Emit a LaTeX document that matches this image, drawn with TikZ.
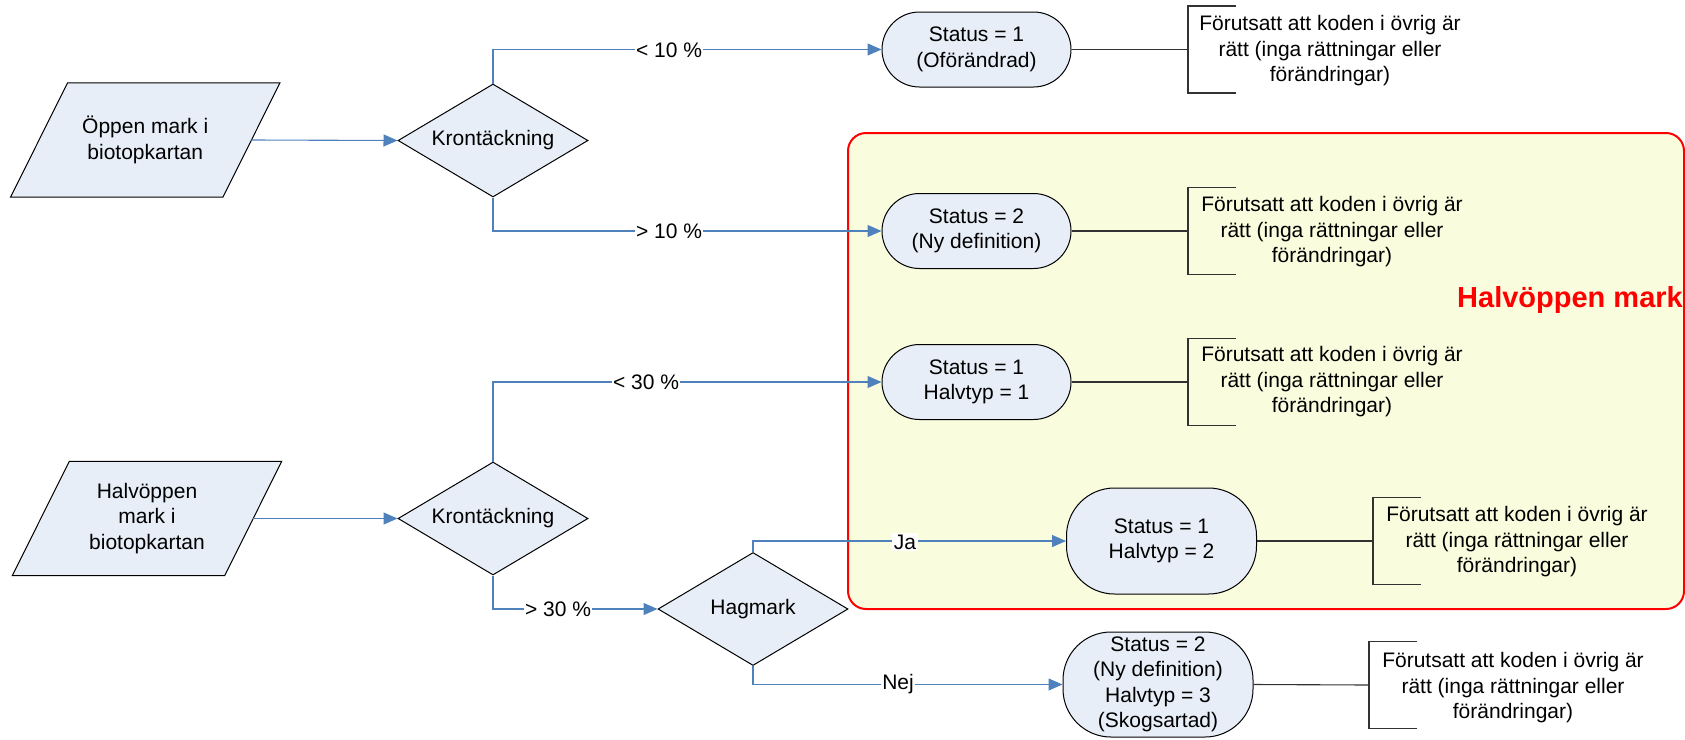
\documentclass[tikz,border=0pt]{standalone}
\usepackage{fontspec}
\setmainfont{Liberation Sans}
\usetikzlibrary{shapes.geometric,arrows.meta,backgrounds}
\definecolor{nodefill}{RGB}{232,238,247}
\definecolor{lineblue}{RGB}{79,129,189}
\definecolor{boxfill}{RGB}{250,252,222}
\definecolor{bracketgray}{RGB}{50,50,50}
\begin{document}
\begin{tikzpicture}[x=1pt,y=-1pt,
  every node/.style={font=\fontsize{21}{25.5}\selectfont},
  base/.style={draw=black, line width=1pt, fill=nodefill, inner sep=0pt, align=center},
  inbox/.style={rectangle, inner sep=0pt, align=center, minimum width=212pt, minimum height=114pt},
  inboxline/.style={draw=black, line width=1pt, fill=nodefill},
  decision/.style={base, diamond, aspect=1.68, minimum width=190pt, minimum height=113pt},
  status/.style={base, rectangle, rounded corners=37.5pt, minimum width=189pt, minimum height=75pt},
  tallstatus/.style={base, rectangle, rounded corners=48pt, minimum width=190pt, minimum height=106pt},
  conn/.style={draw=lineblue, line width=1.1pt, -{Triangle[length=14pt,width=12pt,fill=lineblue]}},
  lbl/.style={fill=white, inner sep=1.5pt},
  bracketline/.style={draw=bracketgray, line width=1.1pt},
  note/.style={align=center, inner sep=0pt},
  redbox/.style={draw=red, line width=2pt, fill=boxfill, rounded corners=18pt, inner sep=0pt},
  bracketpic/.pic={\draw[bracketline] (48,-43.5) -- (0,-43.5) -- (0,43.5) -- (48,43.5);}
]
\useasboundingbox (0,0) rectangle (1685,739);

% highlighted zone
\node[redbox, minimum width=836pt, minimum height=476pt] (zone) at (1266,371) {};
\node[anchor=base east, text=red, font=\bfseries\fontsize{29}{34}\selectfont, inner sep=0pt]
  (zlabel) at (1683,307.5) {Halvöppen mark};

% input nodes (parallelograms)
\node[inbox] (p1) at (145.25,140) {Öppen mark i\\biotopkartan};
\node[inbox] (p2) at (147,518.5) {Halvöppen\\mark i\\biotopkartan};
\begin{scope}[on background layer]
\foreach \p in {p1,p2}{
  \draw[inboxline] ([xshift=28.5pt]\p.north west) -- ([xshift=28.5pt]\p.north east)
     -- ([xshift=-28.5pt]\p.south east) -- ([xshift=-28.5pt]\p.south west) -- cycle;
}
\end{scope}

% other nodes
\node[decision] (d1) at (493,140.5) {Krontäckning};
\node[status] (s1) at (976.5,49.5) {Status = 1\\(Oförändrad)};
\node[status] (s2) at (976.5,231) {Status = 2\\(Ny definition)};
\node[status] (s3) at (976.5,382) {Status = 1\\Halvtyp = 1};
\node[decision] (d2) at (493,518.5) {Krontäckning};
\node[decision] (h) at (753,609) {Hagmark};
\node[tallstatus] (s4) at (1161.5,541) {Status = 1\\Halvtyp = 2};
\node[tallstatus, minimum height=105pt] (s5) at (1158,684.5) {Status = 2\\(Ny definition)\\Halvtyp = 3\\(Skogsartad)};

% connectors
\draw[conn] (p1.east) -- (d1.west);
\draw[conn] (d1.north) |- (s1.west);
\draw[conn] (d1.south) |- (s2.west);
\draw[conn] (p2.east) -- (d2.west);
\draw[conn] (d2.north) |- (s3.west);
\draw[conn] (d2.south) |- (h.west);
\draw[conn] (h.north) |- (s4.west);
\draw[conn] (h.south) |- (s5.west);

% labels
\node[lbl] (l1) at (669,50) {< 10 \%};
\node[lbl] (l2) at (669,231) {> 10 \%};
\node[lbl] (l3) at (646,382) {< 30 \%};
\node[lbl] (l4) at (558,609) {> 30 \%};
\node[lbl] (l5) at (905,542) {Ja};
\node[lbl] (l6) at (898,684) {Nej};

% brackets with notes
\coordinate (b1) at (1188,49.5);
\coordinate (b2) at (1188,231);
\coordinate (b3) at (1188,382);
\coordinate (b4) at (1373,541);
\coordinate (b5) at (1369,685);
\foreach \b in {b1,b2,b3,b4,b5} { \pic at (\b) {bracketpic}; }
\draw[bracketline] (s1.east) -- (b1);
\draw[bracketline] (s2.east) -- (b2);
\draw[bracketline] (s3.east) -- (b3);
\draw[bracketline] (s4.east) -- (b4);
\draw[bracketline] (s5.east) -- (b5);

\node[note] (t1) at (1330,51) {Förutsatt att koden i övrig är\\rätt (inga rättningar eller\\förändringar)};
\node[note] (t2) at (1332,232) {Förutsatt att koden i övrig är\\rätt (inga rättningar eller\\förändringar)};
\node[note] (t3) at (1332,382) {Förutsatt att koden i övrig är\\rätt (inga rättningar eller\\förändringar)};
\node[note] (t4) at (1517,542) {Förutsatt att koden i övrig är\\rätt (inga rättningar eller\\förändringar)};
\node[note] (t5) at (1513,688) {Förutsatt att koden i övrig är\\rätt (inga rättningar eller\\förändringar)};
\end{tikzpicture}
\end{document}
